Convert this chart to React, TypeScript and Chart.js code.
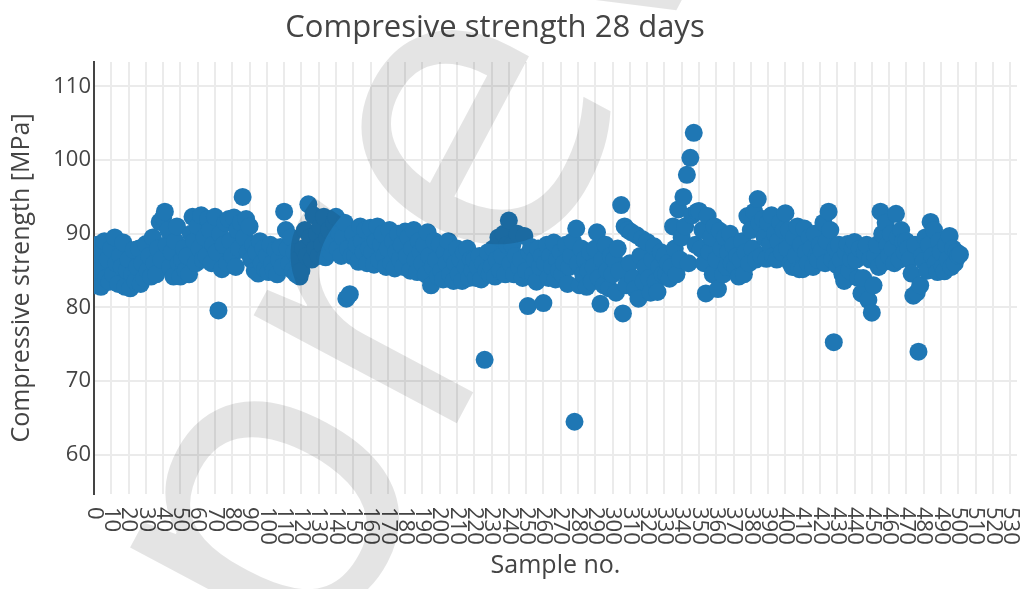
import React, { useEffect, useRef } from "react";
import { Chart, registerables } from "chart.js";

Chart.register(...registerables);

const chartTitle = "Compresive strength 28 days";
const xAxisTitle = "Sample no.";
const yAxisTitle = "Compressive strength [MPa]";
const watermarkText = "preview";

const xTickValues: number[] = [
  0, 10, 20, 30, 40, 50, 60, 70, 80, 90, 100, 110, 120, 130, 140, 150, 160, 170, 180, 190,
  200, 210, 220, 230, 240, 250, 260, 270, 280, 290, 300, 310, 320, 330, 340, 350, 360, 370,
  380, 390, 400, 410, 420, 430, 440, 450, 460, 470, 480, 490, 500, 510, 520, 530,
];
const yTickValues: number[] = [60, 70, 80, 90, 100, 110];

// Compressive strength per sample (sample no. = position in list)
const strengthValues: number[] = [
  86.0, 83.0, 88.5, 85.0, 82.8, 87.5, 89.0, 84.0, 86.5, 83.5,
  88.0, 84.5, 89.5, 86.0, 83.2, 87.0, 85.5, 88.8, 82.8, 85.0,
  86.5, 82.6, 84.5, 87.8, 83.5, 85.5, 88.0, 83.2, 86.0, 84.0,
  88.6, 85.0, 87.0, 84.2, 89.5, 86.0, 84.5, 88.0, 91.6, 86.5,
  92.2, 93.0, 88.5, 90.5, 85.5, 87.5, 84.2, 89.0, 91.0, 86.0,
  84.2, 86.5, 88.0, 85.0, 87.0, 84.5, 90.0, 92.3, 89.0, 86.0,
  91.0, 88.0, 92.5, 86.5, 89.5, 87.0, 92.0, 90.5, 86.0, 88.5,
  92.3, 87.5, 79.6, 90.0, 85.2, 88.5, 91.5, 86.0, 92.0, 89.0,
  87.0, 92.2, 85.5, 90.5, 88.0, 91.5, 95.0, 89.5, 92.0, 87.5,
  91.0, 86.5, 88.5, 85.0, 87.5, 84.6, 89.0, 86.0, 88.0, 85.2,
  87.0, 84.8, 88.5, 86.0, 85.0, 87.8, 84.5, 86.5, 88.2, 85.5,
  93.0, 90.5, 88.0, 86.0, 89.5, 85.0, 87.5, 84.5, 86.5, 84.2,
  85.0, 88.0, 90.5, 87.0, 94.0, 89.5, 86.5, 92.5, 88.0, 90.0,
  87.0, 91.0, 88.5, 92.3, 86.8, 89.5, 90.5, 87.5, 88.5, 91.5,
  92.3, 88.0, 90.0, 87.0, 89.5, 91.5, 81.2, 88.0, 81.8, 87.0,
  90.0, 87.0, 88.5, 86.2, 91.0, 89.0, 87.5, 90.5, 86.0, 88.0,
  90.8, 87.5, 85.8, 89.0, 91.0, 86.5, 88.5, 90.0, 87.0, 85.5,
  88.0, 90.5, 86.0, 89.0, 85.3, 87.5, 90.0, 86.5, 88.5, 85.5,
  90.3, 87.0, 89.5, 85.0, 88.0, 90.5, 86.5, 84.8, 89.0, 87.5,
  86.0, 88.5, 84.5, 90.2, 87.0, 83.0, 85.5, 89.0, 86.5, 84.2,
  88.5, 85.0, 83.8, 87.5, 86.0, 89.0, 84.5, 87.0, 83.6, 86.0,
  88.0, 84.5, 86.5, 83.6, 87.5, 85.5, 88.0, 84.0, 86.5, 85.0,
  86.5, 84.0, 85.5, 87.0, 83.8, 86.0, 72.9, 85.0, 87.5, 84.5,
  85.5, 88.0, 84.2, 86.5, 89.5, 85.0, 87.0, 90.0, 84.5, 88.5,
  91.8, 86.0, 88.5, 84.5, 87.0, 90.0, 85.5, 86.5, 84.0, 89.7,
  85.0, 80.2, 87.5, 88.2, 84.5, 86.5, 83.5, 88.0, 85.5, 87.0,
  80.6, 86.0, 88.5, 84.0, 87.0, 85.5, 88.8, 83.8, 86.5, 85.0,
  87.5, 84.5, 86.0, 88.5, 83.2, 85.5, 87.0, 89.0, 64.5, 90.7,
  86.0, 83.0, 88.0, 84.5, 86.5, 82.8, 85.0, 87.5, 83.5, 85.5,
  88.0, 90.2, 84.0, 80.5, 86.5, 83.0, 88.5, 85.0, 82.6, 87.0,
  84.5, 86.5, 82.0, 88.0, 85.0, 93.9, 79.2, 91.0, 83.0, 90.5,
  86.0, 90.2, 84.0, 82.5, 89.8, 81.2, 87.0, 89.3, 83.5, 85.5,
  88.9, 84.0, 82.0, 86.5, 88.3, 83.5, 82.1, 85.5, 87.5, 84.5,
  87.0, 84.5, 86.0, 83.9, 85.5, 91.0, 88.0, 84.5, 93.3, 86.5,
  89.5, 95.0, 91.0, 98.0, 86.0, 100.3, 92.5, 103.7, 88.5, 93.0,
  93.1, 88.0, 90.5, 86.0, 81.9, 92.4, 87.5, 89.5, 84.5, 91.0,
  86.5, 82.5, 90.4, 88.0, 84.5, 89.5, 85.5, 87.5, 90.0, 86.0,
  88.4, 85.5, 87.0, 84.2, 86.5, 89.0, 84.5, 87.5, 92.4, 86.0,
  90.5, 88.0, 93.0, 86.5, 94.7, 91.5, 87.0, 92.0, 89.5, 86.6,
  91.5, 88.5, 92.5, 87.0, 90.0, 86.5, 89.0, 91.5, 87.5, 90.5,
  92.8, 88.0, 90.5, 86.0, 85.5, 89.5, 87.0, 91.0, 85.2, 88.5,
  85.2, 90.7, 87.5, 86.0, 89.5, 88.0, 85.5, 90.0, 87.0, 86.5,
  88.5, 87.7, 91.5, 86.0, 89.0, 93.0, 90.5, 86.5, 75.3, 88.0,
  85.7, 88.5, 86.5, 84.5, 83.6, 87.5, 88.6, 85.0, 86.5, 88.0,
  88.9, 86.5, 84.0, 88.0, 81.9, 84.0, 87.5, 88.5, 81.0, 86.5,
  79.3, 83.0, 87.0, 88.5, 85.5, 93.0, 90.0, 86.2, 91.5, 88.5,
  87.0, 90.0, 88.0, 86.0, 92.7, 89.5, 86.5, 90.5, 88.9, 87.5,
  89.0, 88.0, 86.5, 84.6, 81.6, 88.5, 82.0, 74.0, 83.0, 87.0,
  86.3, 89.5, 85.0, 88.5, 91.6, 87.0, 90.5, 86.0, 84.8, 89.0,
  87.5, 85.5, 84.9, 88.5, 86.5, 89.7, 85.5, 88.0, 86.0, 87.5,
  87.0, 87.2,
];

const FONT = "'Open Sans', 'Noto Sans', sans-serif";
const TEXT_COLOR = "#444444";
const MARKER_COLOR = "#1f77b4";
const GRID_COLOR = "#ebebeb";

const overlayPlugin = {
  id: "overlay",
  afterDraw(chart: any) {
    const ctx: CanvasRenderingContext2D = chart.ctx;
    const xs = chart.scales.x;
    const bottom = chart.chartArea.bottom;

    // chart title
    ctx.save();
    ctx.font = `31px ${FONT}`;
    ctx.fillStyle = TEXT_COLOR;
    ctx.textAlign = "center";
    ctx.textBaseline = "alphabetic";
    ctx.fillText(chartTitle, 495, 37);
    ctx.restore();

    // x tick labels, rotated clockwise (read top to bottom)
    ctx.save();
    ctx.font = `22px ${FONT}`;
    ctx.fillStyle = TEXT_COLOR;
    ctx.textAlign = "left";
    ctx.textBaseline = "middle";
    for (const v of xTickValues) {
      const px = xs.getPixelForValue(v);
      ctx.save();
      ctx.translate(px, bottom + 13);
      ctx.rotate(Math.PI / 2);
      ctx.fillText(String(v), 0, 0);
      ctx.restore();
    }
    ctx.restore();

    // watermark
    ctx.save();
    ctx.translate(316, 688);
    ctx.rotate((-62 * Math.PI) / 180);
    ctx.font = `430px ${FONT}`;
    ctx.fillStyle = "rgba(0,0,0,0.105)";
    ctx.textAlign = "left";
    ctx.textBaseline = "alphabetic";
    ctx.fillText(watermarkText, 0, 0);
    ctx.restore();
  },
};

export default function App() {
  const canvasRef = useRef<HTMLCanvasElement | null>(null);

  useEffect(() => {
    const canvas = canvasRef.current;
    if (!canvas) return;
    const points = strengthValues.map((v, i) => ({ x: i, y: v }));
    const chart = new Chart(canvas, {
      type: "scatter",
      data: {
        datasets: [
          {
            data: points,
            backgroundColor: MARKER_COLOR,
            borderWidth: 0,
            pointRadius: 9,
            pointHoverRadius: 9,
          },
        ],
      },
      options: {
        animation: false,
        responsive: false,
        devicePixelRatio: 1,
        layout: { padding: { left: 0, right: 2, top: 62, bottom: 0 } },
        plugins: {
          legend: { display: false },
          title: { display: false },
          tooltip: { enabled: false },
        },
        scales: {
          x: {
            type: "linear",
            min: 0,
            max: 534,
            afterBuildTicks: (s: any) => {
              s.ticks = xTickValues.map((v) => ({ value: v }));
            },
            afterFit: (s: any) => {
              s.height = 95;
            },
            ticks: { display: false },
            grid: { color: GRID_COLOR, lineWidth: 2, drawTicks: false },
            border: { display: false },
            title: {
              display: true,
              text: xAxisTitle,
              color: TEXT_COLOR,
              font: { family: FONT, size: 25 },
              padding: { top: 0, bottom: 8 },
            },
          },
          y: {
            type: "linear",
            min: 54.7,
            max: 113.3,
            afterBuildTicks: (s: any) => {
              s.ticks = yTickValues.map((v) => ({ value: v }));
            },
            afterFit: (s: any) => {
              s.width = 94;
            },
            ticks: {
              color: TEXT_COLOR,
              font: { family: FONT, size: 22 },
              padding: 3,
            },
            grid: { color: GRID_COLOR, lineWidth: 2, drawTicks: false },
            border: { display: true, color: TEXT_COLOR, width: 2 },
            title: {
              display: true,
              text: yAxisTitle,
              color: TEXT_COLOR,
              font: { family: FONT, size: 25 },
              padding: { top: 7, bottom: 0 },
            },
          },
        },
      },
      plugins: [overlayPlugin],
    } as any);
    return () => chart.destroy();
  }, []);

  return (
    <div style={{ position: "absolute", left: 0, top: 0, width: 1026, height: 589, background: "#fff" }}>
      <canvas ref={canvasRef} width={1026} height={589} style={{ display: "block" }} />
    </div>
  );
}
